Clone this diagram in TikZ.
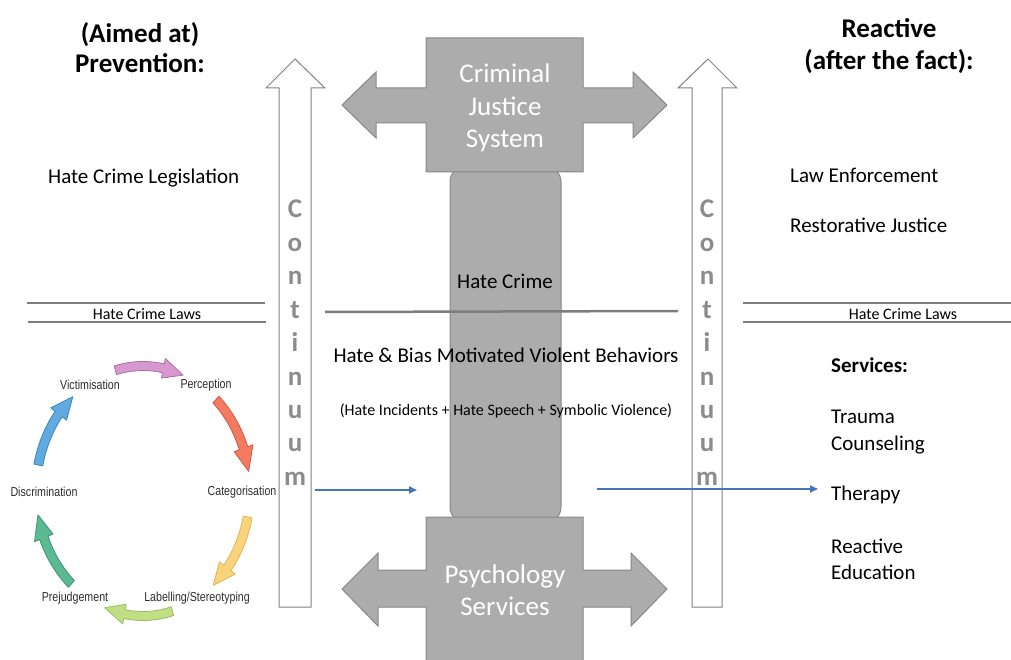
\documentclass[tikz,border=0pt]{standalone}
\usepackage{fontspec}
\setmainfont{Carlito}
\newfontfamily\narrowfont[FakeStretch=0.82]{Liberation Sans}
\usetikzlibrary{arrows.meta,calc}
\definecolor{boxgray}{RGB}{172,172,172}
\definecolor{boxedge}{RGB}{135,135,135}
\definecolor{contedge}{RGB}{130,130,130}
\definecolor{contgray}{RGB}{140,140,140}
\definecolor{rulegray}{RGB}{125,125,125}
\definecolor{arrblue}{RGB}{70,115,190}
\definecolor{cycText}{RGB}{45,45,45}
\definecolor{pinkF}{RGB}{214,152,206}\definecolor{pinkD}{RGB}{175,110,165}
\definecolor{redF}{RGB}{244,122,96}\definecolor{redD}{RGB}{205,88,68}
\definecolor{yelF}{RGB}{250,212,122}\definecolor{yelD}{RGB}{222,180,88}
\definecolor{grnF}{RGB}{192,222,132}\definecolor{grnD}{RGB}{155,190,100}
\definecolor{tealF}{RGB}{92,186,146}\definecolor{tealD}{RGB}{60,148,112}
\definecolor{bluF}{RGB}{96,170,224}\definecolor{bluD}{RGB}{62,132,192}
\newcommand\cycarrow[4]{%
  \pgfmathsetmacro\cmid{#2-11}%
  \filldraw[fill=#3, draw=#4, line width=0.8pt, line join=round]
    (#1:111.5 and 129.5) arc[start angle=#1, end angle=\cmid, x radius=111.5, y radius=129.5]
    -- (\cmid:117 and 135) -- (#2:107 and 125) -- (\cmid:97 and 115) -- (\cmid:102.5 and 120.5)
    arc[start angle=\cmid, end angle=#1, x radius=102.5, y radius=120.5] -- cycle;}
\tikzset{
  body/.style={font=\fontsize{21}{25.6}\selectfont, inner sep=0pt},
  headtxt/.style={font=\bfseries\fontsize{27}{32}\selectfont, inner sep=0pt, anchor=base},
  smalltxt/.style={font=\fontsize{16}{19}\selectfont, inner sep=0pt},
  cyc/.style={font=\narrowfont\fontsize{13}{15}\selectfont, text=cycText, inner sep=0pt},
  bigwhite/.style={font=\fontsize{27}{32.5}\selectfont, text=white, align=center, inner sep=0pt},
  contl/.style={font=\bfseries\fontsize{27}{32}\selectfont, text=contgray, inner sep=0pt, anchor=base},
  graybox/.style={fill=boxgray, draw=boxedge, line width=1pt},
  whitearrow/.style={fill=white, draw=contedge, line width=1pt},
  rulestyle/.style={draw=rulegray, line width=2.5pt},
  bluearr/.style={draw=arrblue, line width=2.4pt, -{Triangle[length=8pt,width=7pt]}},
}
\begin{document}
\begin{tikzpicture}[x=1pt,y=-1pt]
\useasboundingbox (0,0) rectangle (1011,660);
\clip (0,0) rectangle (1011,660);

% central rounded column
\draw[graybox, rounded corners=16pt] (450,166) rectangle (561,523);

% top cross (Criminal Justice System)
\draw[graybox] (342,105) -- (376,72) -- (376,88) -- (426,88) -- (426,38) -- (583,38) -- (583,88)
  -- (633,88) -- (633,72) -- (667,105) -- (633,138) -- (633,123) -- (583,123) -- (583,172)
  -- (426,172) -- (426,123) -- (376,123) -- (376,138) -- cycle;
\node[bigwhite] (cjs) at (505,108) {Criminal\\Justice\\System};

% bottom cross (Psychology Services)
\draw[graybox] (342,589) -- (378,553) -- (378,570) -- (426,570) -- (426,517) -- (583,517) -- (583,570)
  -- (631,570) -- (631,553) -- (667,589) -- (631,626) -- (631,607) -- (583,607) -- (583,668)
  -- (426,668) -- (426,607) -- (378,607) -- (378,626) -- cycle;
\node[bigwhite] (psy) at (505,590) {Psychology\\Services};

% continuum arrows
\draw[whitearrow] (295,59) -- (325,88) -- (311,88) -- (311,607) -- (279,607) -- (279,88) -- (266,88) -- cycle;
\draw[whitearrow] (708,59) -- (737,88) -- (722,88) -- (722,607) -- (692,607) -- (692,88) -- (678,88) -- cycle;
\foreach \l [count=\i from 0] in {C,o,n,t,i,n,u,u,m}{
  \node[contl] (cl\i) at (295,218+33.4*\i) {\l};
  \node[contl] (cr\i) at (707,218+33.4*\i) {\l};
}

% headers
\node[headtxt] (h1) at (140,43) {(Aimed at)};
\node[headtxt] (h2) at (140,73) {Prevention:};
\node[headtxt] (h3) at (889,38) {Reactive};
\node[headtxt] (h4) at (889,70) {(after the fact):};

% left texts
\node[body, anchor=base west] (hcl) at (48,184) {Hate Crime Legislation};

% hate crime laws rules
\coordinate (la1) at (27,303); \coordinate (la2) at (265,303);
\coordinate (lb1) at (28,322); \coordinate (lb2) at (266,322);
\coordinate (ra1) at (743,303); \coordinate (ra2) at (1011,303);
\coordinate (rb1) at (743,322); \coordinate (rb2) at (1011,322);
\draw[rulestyle] (la1) -- (la2);
\draw[rulestyle] (lb1) -- (lb2);
\draw[rulestyle] (ra1) -- (ra2);
\draw[rulestyle] (rb1) -- (rb2);
\node[smalltxt, anchor=base] (hcll) at (147,319) {Hate Crime Laws};
\node[smalltxt, anchor=base] (hclr) at (903,319) {Hate Crime Laws};

% middle divider
\coordinate (m1) at (325,312); \coordinate (m2) at (678,311);
\draw[rulestyle] (m1) -- (m2);
\node[body, anchor=base] (hc) at (505,288) {Hate Crime};
\node[body, anchor=base] (hb) at (506,362) {Hate \& Bias Motivated Violent Behaviors};
\node[smalltxt, anchor=base] (hi) at (506,415) {(Hate Incidents + Hate Speech + Symbolic Violence)};

% right texts
\node[body, anchor=base west] (le) at (790,183) {Law Enforcement};
\node[body, anchor=base west] (rj) at (790,233) {Restorative Justice};
\node[body, anchor=base west, font=\bfseries\fontsize{21}{25}\selectfont] (sv) at (831,372) {Services:};
\node[body, anchor=base west] (tr1) at (831,423) {Trauma};
\node[body, anchor=base west] (tr2) at (831,450) {Counseling};
\node[body, anchor=base west] (th) at (831,500) {Therapy};
\node[body, anchor=base west] (re1) at (831,553) {Reactive};
\node[body, anchor=base west] (re2) at (831,579) {Education};

% blue arrows
\coordinate (bl1) at (315,490); \coordinate (bl2) at (417,490);
\coordinate (br1) at (597,489); \coordinate (br2) at (818,489);
\draw[bluearr] (bl1) -- (bl2);
\draw[bluearr] (br1) -- (br2);

% cycle
\begin{scope}[shift={(143,491)}]
  \cycarrow{-105}{-68}{pinkF}{pinkD}
  \cycarrow{-47}{-9}{redF}{redD}
  \cycarrow{12}{49}{yelF}{yelD}
  \cycarrow{74}{111}{grnF}{grnD}
  \cycarrow{132}{169}{tealF}{tealD}
  \cycarrow{192}{229}{bluF}{bluD}
\end{scope}
\node[cyc] (vic) at (90,385) {Victimisation};
\node[cyc] (per) at (206,385) {Perception};
\node[cyc] (cat) at (242,492) {Categorisation};
\node[cyc] (lab) at (197,598) {Labelling/Stereotyping};
\node[cyc] (pre) at (75,598) {Prejudgement};
\node[cyc] (dis) at (44,492) {Discrimination};
\end{tikzpicture}
\end{document}
